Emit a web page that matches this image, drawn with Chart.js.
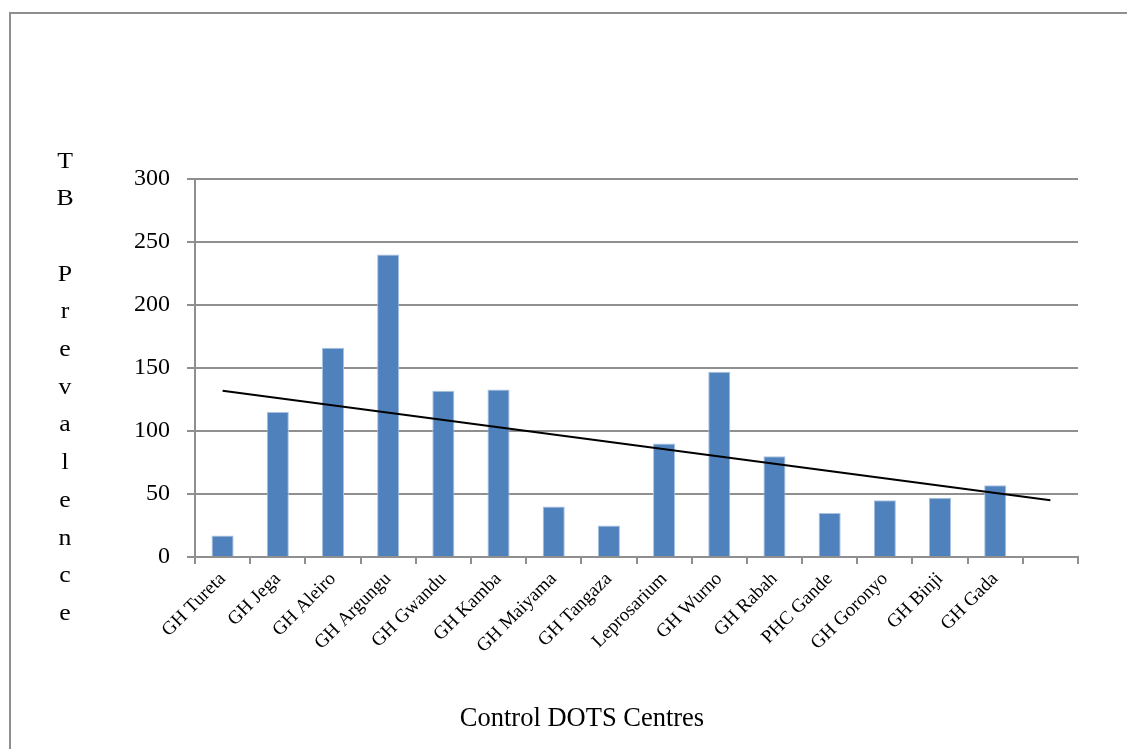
<!DOCTYPE html>
<html>
<head>
<meta charset="utf-8">
<script src="https://cdn.jsdelivr.net/npm/chart.js@4/dist/chart.umd.min.js"></script>
<style>
  html, body { margin: 0; padding: 0; background: #fff; }
  #wrap { width: 1127px; height: 749px; position: relative; }
</style>
</head>
<body>
<div id="wrap"><canvas id="c" width="1127" height="749"></canvas></div>
<script>
const categories = ['GH Tureta','GH Jega','GH Aleiro','GH Argungu','GH Gwandu','GH Kamba','GH Maiyama','GH Tangaza','Leprosarium','GH Wurno','GH Rabah','PHC Gande','GH Goronyo','GH Binji','GH Gada',''];
const prevalence = [17, 115, 166, 240, 132, 133, 40, 25, 90, 147, 80, 35, 45, 47, 57, null];
const trendEnds = [132, null, null, null, null, null, null, null, null, null, null, null, null, null, null, 45];
const yTicks = [0, 50, 100, 150, 200, 250, 300];
const yTitle = 'TB Prevalence';
const xTitle = 'Control DOTS Centres';

const SERIF = '"Liberation Serif", "Times New Roman", serif';

const decor = {
  id: 'decor',
  beforeDraw(chart) {
    const ctx = chart.ctx;
    ctx.save();
    ctx.fillStyle = '#fff';
    ctx.fillRect(0, 0, chart.width, chart.height);
    ctx.strokeStyle = '#8f8f8f';
    ctx.lineWidth = 2;
    ctx.beginPath();
    ctx.moveTo(10, chart.height);
    ctx.lineTo(10, 13);
    ctx.lineTo(chart.width, 13);
    ctx.stroke();
    ctx.restore();
  },
  afterDraw(chart) {
    const ctx = chart.ctx;
    ctx.save();
    ctx.fillStyle = '#000';
    ctx.textAlign = 'center';
    ctx.textBaseline = 'alphabetic';
    const letters = yTitle.split('');
    letters.forEach((ch, i) => {
      if (ch === ' ') return;
      ctx.save();
      ctx.translate(65, 167.5 + i * 37.7);
      ctx.scale(1.12, 1);
      ctx.font = '23px ' + SERIF;
      ctx.fillText(ch, 0, 0);
      ctx.restore();
    });
    ctx.font = '26.5px ' + SERIF;
    ctx.fillText(xTitle, 582, 726);
    ctx.restore();
  }
};

new Chart(document.getElementById('c'), {
  data: {
    labels: categories,
    datasets: [
      {
        type: 'line',
        data: trendEnds,
        spanGaps: true,
        borderColor: '#000',
        borderWidth: 2,
        pointRadius: 0,
        fill: false,
        order: 0
      },
      {
        type: 'bar',
        data: prevalence,
        backgroundColor: '#4f81bd',
        borderColor: '#a9c1e0',
        borderWidth: 1,
        categoryPercentage: 1,
        barPercentage: 0.4,
        order: 1
      }
    ]
  },
  options: {
    responsive: false,
    animation: false,
    devicePixelRatio: 1,
    layout: { padding: { left: 0, top: 179, right: 49, bottom: 0 } },
    plugins: { legend: { display: false }, tooltip: { enabled: false }, title: { display: false } },
    scales: {
      x: {
        offset: true,
        grid: { display: true, drawOnChartArea: false, drawTicks: true, tickLength: 7, color: '#8f8f8f', lineWidth: 2, offset: true },
        border: { display: true, color: '#8f8f8f', width: 2 },
        ticks: {
          color: '#000',
          font: { family: SERIF, size: 19 },
          maxRotation: 45, minRotation: 45,
          autoSkip: false,
          padding: 4
        },
        afterFit(scale) { scale.height = 749 - 557; }
      },
      y: {
        min: 0, max: 300,
        afterBuildTicks(scale) { scale.ticks = yTicks.map(v => ({ value: v })); },
        grid: { color: '#8f8f8f', lineWidth: 2, drawTicks: true, tickLength: 8 },
        border: { display: true, color: '#8f8f8f', width: 2 },
        ticks: {
          color: '#000',
          font: { family: SERIF, size: 24 },
          padding: 17
        },
        afterFit(scale) { scale.width = 195; }
      }
    }
  },
  plugins: [decor]
});
</script>
</body>
</html>
